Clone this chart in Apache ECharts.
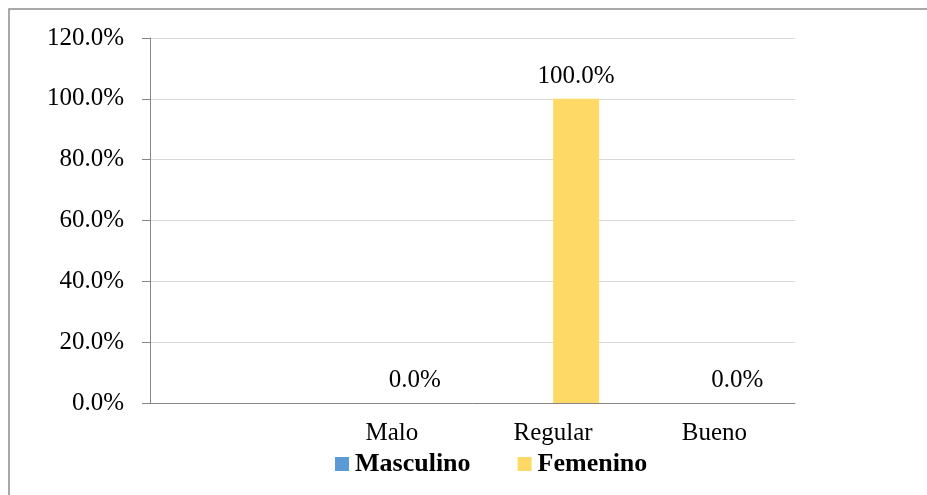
<!DOCTYPE html>
<html>
<head>
<meta charset="utf-8">
<script src="https://cdn.jsdelivr.net/npm/echarts@6/dist/echarts.min.js"></script>
<style>
  html, body { margin: 0; padding: 0; background: #fff; }
  #chart { width: 927px; height: 495px; }
</style>
</head>
<body>
<div id="chart"></div>
<script>
const categories = ["", "Malo", "Regular", "Bueno"];
const masculino = [null, null, null, null];
const femenino = [null, 0, 100, 0];
const yTicks = { min: 0, max: 120, interval: 20 };

const font = "'Liberation Serif', 'Times New Roman', serif";
const chart = echarts.init(document.getElementById("chart"));

chart.setOption({
  backgroundColor: "#fff",
  animation: false,
  graphic: [
    {
      type: "rect",
      shape: { x: 9, y: 9, width: 1000, height: 1000 },
      style: { fill: "none", stroke: "#8c8c8c", lineWidth: 1.5 },
    },
  ],
  grid: { left: 150, right: 132, top: 38, bottom: 92 },
  legend: {
    data: ["Masculino", "Femenino"],
    left: 330,
    top: 446,
    itemWidth: 14,
    itemHeight: 14,
    itemGap: 47,
    icon: "rect",
    textStyle: { fontFamily: font, fontSize: 26, fontWeight: "bold", color: "#000", padding: [0, 0, 0, 1] },
  },
  xAxis: {
    type: "category",
    data: categories,
    axisLine: { lineStyle: { color: "#868686", width: 1 } },
    axisTick: { length: 7, lineStyle: { color: "#868686" } },
    axisLabel: { fontFamily: font, fontSize: 25, color: "#000", margin: 18 },
  },
  yAxis: {
    type: "value",
    min: yTicks.min,
    max: yTicks.max,
    interval: yTicks.interval,
    axisLine: { show: true, lineStyle: { color: "#868686", width: 1 } },
    axisTick: { show: true, length: 8, lineStyle: { color: "#868686" } },
    axisLabel: {
      fontFamily: font,
      fontSize: 25,
      color: "#000",
      margin: 26,
      formatter: (v) => v.toFixed(1) + "%",
    },
    splitLine: { lineStyle: { color: "#d9d9d9", width: 1 } },
  },
  series: [
    {
      name: "Masculino",
      type: "bar",
      data: masculino,
      barWidth: 46,
      barGap: "0%",
      itemStyle: { color: "#5b9bd5" },
    },
    {
      name: "Femenino",
      type: "bar",
      data: femenino,
      barWidth: 46,
      barGap: "0%",
      itemStyle: { color: "#ffd966" },
      label: {
        show: true,
        position: "top",
        distance: 10,
        fontFamily: font,
        fontSize: 25,
        color: "#000",
        formatter: (p) => (p.value == null ? "" : Number(p.value).toFixed(1) + "%"),
      },
    },
  ],
});
</script>
</body>
</html>
